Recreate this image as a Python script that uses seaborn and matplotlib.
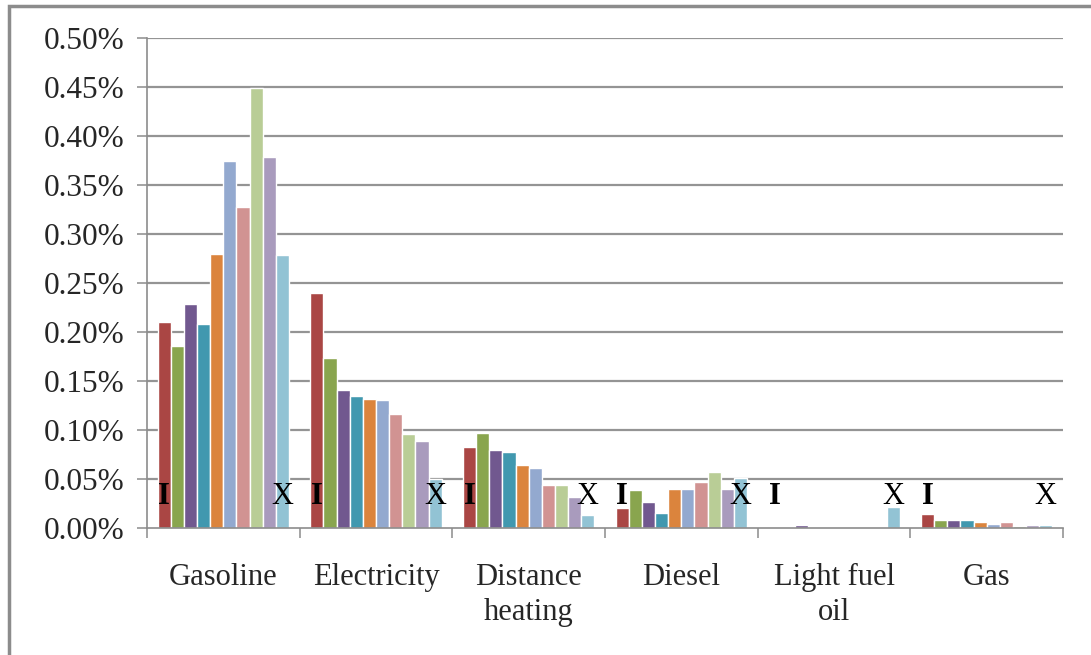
import matplotlib
matplotlib.use("Agg")
import matplotlib.pyplot as plt
from matplotlib.patches import Rectangle
from matplotlib.ticker import FixedLocator, FuncFormatter
import seaborn as sns
import pandas as pd

# Energy carriers on the x axis
categories = ["Gasoline", "Electricity", "Distance\nheating", "Diesel", "Light fuel\noil", "Gas"]
# Income deciles, one bar each per carrier
deciles = ["I", "II", "III", "IV", "V", "VI", "VII", "VIII", "IX", "X"]

# Share of household expenditure (%), one list per carrier, deciles I..X
gasoline = [0.210, 0.186, 0.229, 0.208, 0.280, 0.375, 0.328, 0.449, 0.379, 0.279]
electricity = [0.240, 0.173, 0.141, 0.135, 0.132, 0.131, 0.116, 0.096, 0.089, 0.050]
distance_heating = [0.083, 0.097, 0.080, 0.078, 0.064, 0.061, 0.044, 0.044, 0.032, 0.013]
diesel = [0.020, 0.039, 0.027, 0.015, 0.040, 0.040, 0.047, 0.057, 0.040, 0.051]
light_fuel_oil = [0.000, 0.000, 0.003, 0.000, 0.000, 0.000, 0.000, 0.000, 0.000, 0.021]
gas = [0.014, 0.0085, 0.0085, 0.0085, 0.006, 0.0045, 0.006, 0.0017, 0.003, 0.003]

y_ticks = [0.00, 0.05, 0.10, 0.15, 0.20, 0.25, 0.30, 0.35, 0.40, 0.45, 0.50]

palette = ["#AA4644", "#89A54E", "#71588F", "#4198AF", "#DB843D",
           "#93A9CF", "#D19392", "#B9CD96", "#A99BBD", "#92C3D4"]

series = [gasoline, electricity, distance_heating, diesel, light_fuel_oil, gas]
rows = []
for cat, vals in zip(categories, series):
    for dec, v in zip(deciles, vals):
        rows.append({"carrier": cat, "decile": dec, "share": v})
df = pd.DataFrame(rows)

sns.set_style("white")
plt.rcParams["font.family"] = ["Liberation Serif", "DejaVu Serif"]

DPI = 100
fig = plt.figure(figsize=(1091 / DPI, 655 / DPI), dpi=DPI)
ax = fig.add_axes([147 / 1091, 1 - 528 / 655, (1063 - 147) / 1091, (528 - 38) / 655])

sns.barplot(data=df, x="carrier", y="share", hue="decile",
            order=categories, hue_order=deciles, palette=palette,
            width=0.86, saturation=1, legend=False, ax=ax, zorder=2)

grey = "#8c8c8c"
ax.set_xlim(-0.5, len(categories) - 0.5)
ax.set_ylim(0, 0.5)
ax.set_yticks(y_ticks)
ax.yaxis.set_major_formatter(FuncFormatter(lambda v, p: f"{v:.2f}%"))
ax.set_xlabel("")
ax.set_ylabel("")

for y in y_ticks[1:]:
    ax.axhline(y, color="#949494", lw=1.6, zorder=1)

for side in ["top", "right"]:
    ax.spines[side].set_visible(False)
for side in ["left", "bottom"]:
    ax.spines[side].set_color(grey)
    ax.spines[side].set_linewidth(1.2)

ax.tick_params(axis="y", labelsize=22.5, length=7, width=1.1, color=grey, pad=9, direction="out", left=True)
ax.tick_params(axis="x", which="major", labelsize=22, length=0, pad=25)
ax.xaxis.set_minor_locator(FixedLocator([i - 0.5 for i in range(len(categories) + 1)]))
ax.tick_params(axis="x", which="minor", length=7, width=1.1, color=grey, direction="out", bottom=True)
for lab in ax.get_xticklabels():
    lab.set_linespacing(1.3)

# Decile markers above the first and last bar of each group
first_bars = ax.containers[0]
last_bars = ax.containers[-1]
for b in first_bars:
    ax.text(b.get_x() + b.get_width() / 2, 0.032, "I", ha="center", va="center",
            fontsize=22, fontweight="bold", color="black", zorder=3)
for b in last_bars:
    ax.text(b.get_x() + b.get_width() / 2, 0.032, "X", ha="center", va="center",
            fontsize=22, color="black", zorder=3)

# Chart frame
fig.add_artist(Rectangle((9 / 1091, -0.05), 1.2, 1.05 - 6 / 655,
                         transform=fig.transFigure, fill=False,
                         edgecolor=grey, lw=2.5))

fig.savefig("out.png", dpi=DPI, facecolor="white")
